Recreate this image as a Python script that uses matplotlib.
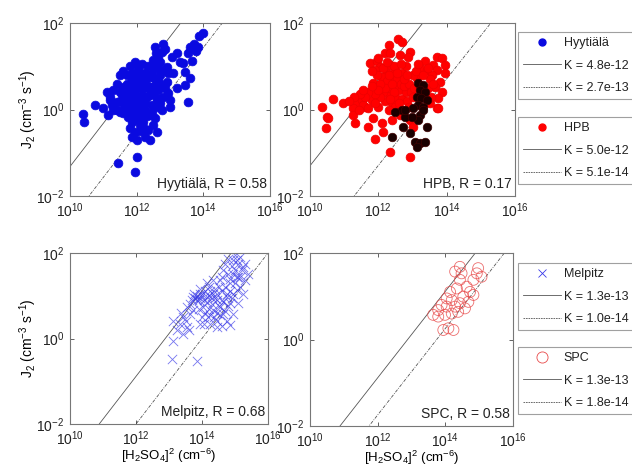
import numpy as np
import matplotlib
matplotlib.use("Agg")
import matplotlib.pyplot as plt
from matplotlib.lines import Line2D
from matplotlib.ticker import NullLocator

plt.rcParams['font.family'] = ['Liberation Sans', 'DejaVu Sans']
plt.rcParams['mathtext.default'] = 'regular'

# points as (log10 x, log10 y)
hyy_pts = [
    (14.0, 1.78), (13.88, 1.70), (13.72, 1.51), (13.85, 1.45), (13.6, 1.45), (13.78, 1.35),
    (12.8, 1.51), (12.85, 1.41), (12.75, 1.34), (13.05, 1.22), (13.55, 1.30), (13.3, 1.1),
    (13.4, 1.07), (13.65, 1.13), (13.45, 0.87), (13.6, 0.72), (13.45, 0.57), (13.2, 0.49),
    (13.55, 0.18), (13.0, 0.22), (12.58, 1.3), (12.65, 1.22), (12.5, 1.14), (12.45, 1.03),
    (12.9, 0.99), (12.95, 0.84), (12.8, 0.91), (12.7, 0.8), (12.9, 0.64), (12.95, 0.37),
    (12.8, 0.3), (12.65, 0.45), (12.4, 0.76), (12.25, 0.68), (12.1, 0.64), (11.85, 0.68),
    (12.0, 0.53), (12.3, 0.49), (12.5, 0.53), (11.6, 0.53), (11.5, 0.41), (11.7, 0.34),
    (11.9, 0.37), (12.15, 0.34), (12.4, 0.34), (12.6, 0.26), (11.2, 0.22), (11.4, 0.18),
    (11.6, 0.14), (11.8, 0.18), (12.05, 0.14), (12.25, 0.14), (12.45, 0.1), (11.0, 0.03),
    (10.75, 0.1), (10.4, -0.1), (11.3, -0.01), (11.5, -0.05), (11.7, -0.01), (11.95, -0.05),
    (12.15, -0.01), (12.4, -0.13), (12.65, 0.06), (12.75, -0.01), (10.42, -0.3), (11.15, -0.13),
    (11.6, -0.09), (11.75, -0.17), (11.9, -0.24), (11.8, -0.43), (11.95, -0.51), (11.85, -0.63),
    (12.15, -0.2), (12.5, -0.36), (12.35, -0.47), (12.25, -0.63), (12.4, -0.71), (12.62, -0.51),
    (13.0, 0.06), (12.0, -1.09), (11.45, -1.24), (11.95, -1.44), (12.1, -0.13), (12.0, -0.71),
    (12.1, -0.36), (12.25, -0.01), (11.65, 0.3), (11.75, 0.45), (11.85, 0.3), (11.95, 0.45),
    (12.05, 0.3), (12.15, 0.5), (11.9, 0.6), (12.0, 0.75), (12.2, 0.65), (11.7, 0.6),
    (11.8, 0.05), (11.9, 0.1), (12.0, 0.0), (12.1, 0.2), (12.2, 0.05), (11.75, 0.2),
    (11.6, 0.0), (11.55, 0.35), (12.3, 0.3), (12.35, 0.55), (11.85, 0.85), (12.05, 0.95),
    (12.25, 0.85), (12.15, 1.05), (12.35, 1.0), (12.6, 0.95), (12.55, 0.7), (12.7, 0.6),
    (12.5, 0.4), (12.6, 0.2), (11.4, 0.6), (11.3, 0.45), (11.2, 0.3), (11.1, 0.4),
    (11.5, 0.8), (11.6, 0.9), (11.7, 0.8), (11.8, 1.0), (11.95, 1.1), (12.1, 0.85),
    (12.3, 0.75), (12.45, 0.85), (12.55, 0.55), (12.65, 0.7), (11.4, 0.0), (11.5, 0.2),
    (11.25, 0.1), (11.9, -0.1), (12.05, -0.2), (12.2, -0.3), (12.3, -0.15), (11.85, -0.3),
    (12.1, -0.5), (12.25, -0.45), (12.45, -0.05), (12.55, -0.2), (12.7, 0.15), (12.85, 0.5),
    (13.1, 0.85), (13.2, 1.3), (12.55, 1.45), (12.7, 1.1),
]

hpb_pts = [
    (12.58, 1.62), (12.68, 1.55), (12.32, 1.49), (12.2, 1.3), (12.34, 1.3), (12.93, 1.34),
    (12.88, 1.21), (12.63, 1.26), (11.76, 1.08), (11.95, 1.11), (12.05, 0.99), (11.9, 0.91),
    (12.34, 1.03), (12.49, 0.91), (12.24, 0.84), (12.1, 0.76), (12.39, 0.72), (11.85, 0.61),
    (12.0, 0.53), (13.71, 1.21), (13.85, 1.18), (13.37, 1.11), (13.61, 1.03), (13.95, 1.03),
    (13.22, 0.95), (13.41, 0.91), (13.71, 0.91), (13.95, 0.84), (13.56, 0.8), (13.12, 0.72),
    (13.8, 0.64), (13.66, 0.53), (13.85, 0.41), (13.76, 0.26), (13.71, 0.03), (13.51, 0.14),
    (10.68, 0.24), (10.34, 0.06), (11.37, 0.18), (11.51, 0.22), (11.81, 0.22), (11.61, 0.06),
    (12.0, 0.06), (11.27, 0.03), (10.49, -0.17), (10.54, -0.2), (10.47, -0.43), (11.27, -0.13),
    (11.32, -0.32), (11.56, 0.1), (11.71, 0.03), (11.85, -0.2), (11.71, -0.4), (12.1, -0.32),
    (12.15, -0.51), (12.39, -0.24), (11.9, -0.69), (12.34, -0.98), (12.93, -1.09), (12.63, -0.13),
    (12.93, -0.24), (13.02, -0.4), (13.76, 0.03), (12.54, 0.1), (10.98, 0.14), (11.42, -0.01),
    (12.2, 0.2), (12.3, 0.35), (12.4, 0.15), (12.5, 0.3), (12.6, 0.45), (12.7, 0.25),
    (12.8, 0.4), (12.45, 0.55), (12.55, 0.7), (12.65, 0.6), (12.35, 0.5), (12.25, 0.65),
    (12.75, 0.55), (12.85, 0.2), (12.9, 0.6), (12.95, 0.4), (12.5, 0.05), (12.3, 0.0),
    (12.15, 0.4), (12.05, 0.3), (11.9, 0.35), (11.7, 0.4), (11.6, 0.3), (11.45, 0.35),
    (11.3, 0.3), (11.15, 0.2), (13.0, 0.8), (13.1, 0.9), (13.05, 0.5), (13.45, 0.5),
    (13.55, 0.3), (13.5, 0.7), (12.7, 0.85), (12.8, 1.0), (12.45, 1.0), (11.95, 0.8),
    (12.15, 0.95), (12.0, 1.2), (11.8, 0.9), (12.2, 0.5), (12.3, 0.8), (12.4, 0.6),
    (12.55, 0.85), (12.6, 0.15), (12.75, 0.7), (12.85, 0.8), (12.9, 0.05), (12.45, 0.4),
    (12.35, 0.25), (12.05, 0.6), (11.9, 0.15), (12.65, 1.05), (12.25, 1.1), (13.0, 0.3),
    (13.15, 1.05), (13.3, 0.8), (13.45, 0.95), (13.6, 0.6), (12.0, 0.45), (11.55, 0.45),
    (11.8, 0.55),
]

# darker subset in the HPB panel
hpb_dark_pts = [
    (13.17, 0.61), (13.32, 0.57), (13.22, 0.45), (13.37, 0.41), (13.12, 0.3), (13.26, 0.26),
    (13.41, 0.22), (13.17, 0.1), (13.32, 0.06), (13.02, 0.03), (12.68, -0.01), (12.49, -0.05),
    (12.78, -0.17), (13.22, -0.13), (12.39, -0.63), (12.73, -0.4), (12.93, -0.55), (13.17, -0.24),
    (13.41, -0.4), (13.07, -0.74), (13.22, -0.78), (13.37, -0.74), (13.12, -0.86), (12.98, -0.17),
    (13.32, -0.01), (12.78, -0.01),
]

mel_pts = [
    (13.13, 0.42), (13.23, 0.19), (13.43, 0.11), (13.08, -0.48), (13.84, -0.52), (13.13, -0.05),
    (13.54, 0.27), (13.74, 0.97), (13.94, 1.05), (13.84, 0.89), (14.14, 0.97), (14.04, 0.74),
    (14.34, 1.05), (14.19, 0.5), (14.34, 0.66), (14.44, 0.42), (14.55, 0.74), (14.75, 0.97),
    (14.85, 1.29), (14.95, 1.52), (15.05, 1.84), (15.15, 1.91), (15.25, 1.68), (15.05, 1.13),
    (14.85, 0.82), (14.65, 0.58), (14.44, 0.27), (14.85, 0.31), (14.24, 0.35), (13.94, 0.35),
    (14.55, 1.36), (14.65, 1.6), (14.95, 1.84), (15.3, 1.36), (15.15, 1.44), (15.4, 1.52),
    (15.25, 1.05), (15.1, 0.82), (14.95, 0.58), (13.64, 0.58), (13.43, 0.5), (13.54, 0.74),
    (13.33, 0.35), (13.74, 0.66), (14.14, 1.29), (14.34, 1.36), (14.44, 0.89), (14.75, 0.42),
    (13.85, 1.0), (13.95, 0.95), (14.0, 1.05), (13.9, 0.9), (13.8, 0.95), (14.05, 0.9),
    (14.1, 1.1), (13.75, 1.05), (14.2, 1.0), (14.25, 1.1), (14.3, 0.95), (13.7, 0.9),
    (14.8, 1.5), (14.9, 1.7), (15.0, 1.6), (15.1, 1.75), (14.85, 1.4), (14.7, 1.2),
    (14.6, 1.1), (14.75, 1.05), (14.6, 0.9), (14.5, 0.75), (14.45, 0.6), (14.35, 0.5),
    (14.55, 0.55), (14.7, 0.65), (15.0, 1.3), (15.1, 1.45), (15.2, 1.6), (14.95, 1.05),
    (14.9, 0.95), (14.5, 1.2), (14.4, 1.15), (14.3, 0.8), (14.2, 0.7), (14.1, 0.6),
    (14.0, 0.5), (14.15, 0.85), (14.6, 0.3), (14.8, 0.75), (13.5, 0.4), (13.6, 0.2),
    (13.35, 0.6), (13.65, 0.8), (13.9, 0.7), (14.05, 0.35), (14.25, 0.55), (14.4, 0.95),
    (14.6, 1.45), (14.7, 1.75), (14.8, 1.85), (15.0, 1.95), (14.85, 1.1), (15.15, 1.2),
    (15.3, 1.75), (15.05, 1.45), (14.65, 0.85), (14.45, 1.05), (14.2, 1.2), (13.95, 1.15),
]

spc_pts = [
    (14.43, 1.68), (14.29, 1.57), (14.97, 1.65), (15.07, 1.45), (14.83, 1.38), (14.43, 1.38),
    (14.34, 1.18), (14.14, 1.1), (14.04, 0.95), (14.19, 0.91), (14.63, 1.22), (14.73, 1.1),
    (14.83, 1.03), (14.53, 0.99), (14.68, 0.87), (14.43, 0.84), (14.58, 0.72), (14.38, 0.64),
    (13.79, 0.68), (13.64, 0.57), (13.89, 0.8), (13.99, 0.57), (14.19, 0.6), (13.94, 0.22),
    (14.09, 0.26), (14.24, 0.22), (14.48, 1.53), (14.29, 0.76), (14.04, 0.76), (13.79, 0.53),
    (14.93, 1.53),
]

sites = ["Hyytiälä", "HPB", "Melpitz", "SPC"]
r_values = [0.58, 0.17, 0.68, 0.58]
k_solid = [4.8e-12, 5.0e-12, 1.3e-13, 1.3e-13]
k_dash = [2.7e-13, 5.1e-14, 1.0e-14, 1.8e-14]
k_solid_lbl = ["4.8e-12", "5.0e-12", "1.3e-13", "1.3e-13"]
k_dash_lbl = ["2.7e-13", "5.1e-14", "1.0e-14", "1.8e-14"]

W, H = 632, 470
fig = plt.figure(figsize=(W / 100, H / 100), dpi=100)


def px_axes(l, t, r, b):
    return fig.add_axes([l / W, 1 - b / H, (r - l) / W, (b - t) / H])


axes = [px_axes(70, 23, 270, 196), px_axes(310, 23, 515, 196),
        px_axes(70, 253, 268, 424), px_axes(310, 253, 513, 426)]

line_col = '#555555'
dash = (0, (4, 1.5, 1, 1.5))
styles = [
    dict(marker='o', s=40, c='#0a0ae0', edgecolors='#0a0ae0', linewidths=0.5),
    dict(marker='o', s=40, c='#ff0000', edgecolors='#ee0000', linewidths=0.5),
    dict(marker='x', s=45, c='#3a3ae8', linewidths=0.6, alpha=0.7),
    dict(marker='o', s=62, facecolors='none', edgecolors='#e84a4a', linewidths=0.6, alpha=0.8),
]
data = [hyy_pts, hpb_pts, mel_pts, spc_pts]
xline = np.array([1e10, 1e16])

for i, ax in enumerate(axes):
    ax.plot(xline, k_solid[i] * xline, color=line_col, lw=0.6, zorder=1)
    ax.plot(xline, k_dash[i] * xline, color=line_col, lw=0.6, ls=dash, zorder=1)
    pts = np.array(data[i])
    ax.scatter(10 ** pts[:, 0], 10 ** pts[:, 1], zorder=2, **styles[i])
    if i == 1:
        dk = np.array(hpb_dark_pts)
        ax.scatter(10 ** dk[:, 0], 10 ** dk[:, 1], marker='o', s=38, c='#1a0000',
                   edgecolors='#400000', linewidths=0.5, zorder=3)
    ax.set_xscale('log')
    ax.set_yscale('log')
    ax.set_xlim(1e10, 1e16)
    ax.set_ylim(1e-2, 1e2)
    ax.set_xticks([1e10, 1e12, 1e14, 1e16])
    ax.set_yticks([1e-2, 1e0, 1e2])
    ax.xaxis.set_minor_locator(NullLocator())
    ax.yaxis.set_minor_locator(NullLocator())
    ax.tick_params(direction='in', length=3, width=0.5, top=True, right=True,
                   labelsize=10, colors='#222222', pad=4)
    for sp in ax.spines.values():
        sp.set_color('#777777')
        sp.set_linewidth(0.8)
    ax.text(0.985, 0.03, f"{sites[i]}, R = {r_values[i]:.2f}", transform=ax.transAxes,
            ha='right', va='bottom', fontsize=10, color='#222222')
    if i in (0, 2):
        ax.set_ylabel(r"J$_2$ (cm$^{-3}$ s$^{-1}$)", fontsize=10, labelpad=-2)
    if i in (2, 3):
        ax.set_xlabel(r"[H$_2$SO$_4$]$^2$ (cm$^{-6}$)", fontsize=9.5, labelpad=-1)

leg_tops = [32, 117, 263, 347]
mk_handles = [
    Line2D([], [], ls='none', marker='o', color='#0a0ae0', markersize=5),
    Line2D([], [], ls='none', marker='o', color='#ff0000', markersize=5),
    Line2D([], [], ls='none', marker='x', color='#3a3ae8', markersize=6, mew=0.6),
    Line2D([], [], ls='none', marker='o', mfc='none', mec='#e84a4a', markersize=8, mew=0.6),
]
for i in range(4):
    handles = [mk_handles[i],
               Line2D([], [], color=line_col, lw=0.6),
               Line2D([], [], color=line_col, lw=0.6, ls=(0, (2, 1)))]
    labels = [sites[i], f"K = {k_solid_lbl[i]}", f"K = {k_dash_lbl[i]}"]
    leg = fig.legend(handles, labels, loc='upper left',
                     bbox_to_anchor=(518 / W, 1 - leg_tops[i] / H),
                     fontsize=9, handlelength=3.0, handletextpad=0.25,
                     labelspacing=0.85, borderpad=0.4, fancybox=False,
                     frameon=True, borderaxespad=0)
    leg.get_frame().set_edgecolor('#888888')
    leg.get_frame().set_linewidth(0.8)
    for t in leg.get_texts():
        t.set_color('#222222')

fig.savefig("out.png", dpi=100)
